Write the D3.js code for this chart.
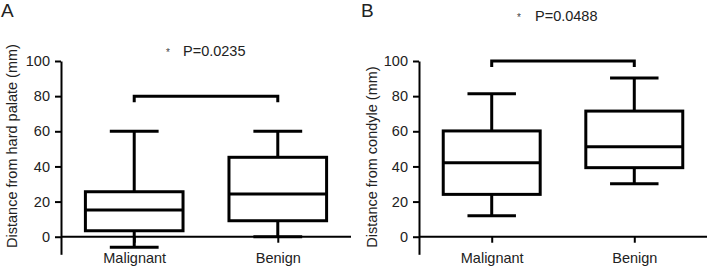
<!DOCTYPE html>
<html lang="en">
<head>
  <meta charset="UTF-8">
  <title>Box plots: distance from hard palate and condyle</title>
  <script src="https://d3js.org/d3.v7.min.js"></script>
  <style>
    body {
      margin: 0;
      background: #fff;
    }
    svg text {
      font-family: "Liberation Sans", Arial, sans-serif;
      fill: #222;
    }
  </style>
</head>
<body>
  <svg width="712" height="268"></svg>

  <script>
    // values: [min, q1, median, q3, max]
    const groups = ["Malignant", "Benign"];
    const palateBoxes = [[-6, 3.4, 15.2, 25.6, 60], [0, 9.1, 24.3, 45.2, 60]];
    const condyleBoxes = [[12, 24.1, 42.1, 60.2, 81.4], [30.2, 39.3, 51.2, 71.5, 90.3]];
    const yTicks = [0, 20, 40, 60, 80, 100];
    const panelLetters = ["A", "B"];
    const yTitles = ["Distance from hard palate (mm)", "Distance from condyle (mm)"];
    const pLabels = ["P=0.0235", "P=0.0488"];
    const bracketLevels = [80, 100];

    const svg = d3.select("svg");
    const fs = "14.5px";

    const panels = [
      {boxes: palateBoxes, left: 61, right: 351, titleY: 146, titleX: 17, letterX: 1},
      {boxes: condyleBoxes, left: 419, right: 707, titleY: 157, titleX: 377, letterX: 361}
    ];

    panels.forEach((p, i) => {
      const g = svg.append("g");

      const y = d3.scaleLinear().domain([-10, 100]).range([254.3, 61]);
      const x = d3.scalePoint().domain(groups).range([p.left, p.right]).padding(0.51);
      const boxW = x.step() * 0.68;
      const capW = boxW / 2;

      // y axis
      const yAxis = g.append("g")
        .attr("transform", `translate(${p.left},0)`)
        .call(d3.axisLeft(y).tickValues(yTicks).tickSize(6).tickPadding(5).tickSizeOuter(0));
      yAxis.select(".domain").attr("stroke", "#000").attr("stroke-width", 2);
      yAxis.selectAll(".tick line").attr("stroke", "#000").attr("stroke-width", 2);
      yAxis.selectAll("text").style("font-size", fs).attr("fill", "#222");

      // x axis sits at zero
      const xAxis = g.append("g")
        .attr("transform", `translate(0,${y(0)})`)
        .call(d3.axisBottom(x).tickSize(6).tickPadding(10).tickSizeOuter(0));
      xAxis.select(".domain").attr("stroke", "#000").attr("stroke-width", 2)
        .attr("d", `M${p.left},0H${p.right}`);
      xAxis.selectAll(".tick line").attr("stroke", "#000").attr("stroke-width", 2);
      xAxis.selectAll("text").style("font-size", fs).attr("fill", "#222");

      // boxes
      const box = g.selectAll(".box")
        .data(p.boxes)
        .enter()
        .append("g")
        .attr("class", "box")
        .attr("transform", (d, j) => `translate(${x(groups[j])},0)`)
        .attr("stroke", "#000")
        .attr("stroke-width", 3)
        .attr("fill", "none");

      box.append("line")
        .attr("y1", d => y(d[0])).attr("y2", d => y(d[1]));
      box.append("line")
        .attr("y1", d => y(d[3])).attr("y2", d => y(d[4]));
      box.append("line")
        .attr("x1", -capW / 2).attr("x2", capW / 2)
        .attr("y1", d => y(d[0])).attr("y2", d => y(d[0]));
      box.append("line")
        .attr("x1", -capW / 2).attr("x2", capW / 2)
        .attr("y1", d => y(d[4])).attr("y2", d => y(d[4]));
      box.append("rect")
        .attr("x", -boxW / 2).attr("width", boxW)
        .attr("y", d => y(d[3])).attr("height", d => y(d[1]) - y(d[3]));
      box.append("line")
        .attr("x1", -boxW / 2).attr("x2", boxW / 2)
        .attr("y1", d => y(d[2])).attr("y2", d => y(d[2]));

      // significance bracket
      const by = y(bracketLevels[i]);
      const x0 = x(groups[0]), x1 = x(groups[1]);
      g.append("path")
        .attr("d", `M${x0},${by + 6}V${by}H${x1}V${by + 6}`)
        .attr("fill", "none")
        .attr("stroke", "#000")
        .attr("stroke-width", 3);

      const mid = (x0 + x1) / 2;
      g.append("text")
        .attr("x", mid - 23 + (i ? -5 : 0))
        .attr("y", by - 40)
        .style("font-size", fs)
        .text(pLabels[i]);
      g.append("text")
        .attr("x", mid - 40 + (i ? -6 : 0))
        .attr("y", by - 40)
        .style("font-size", "10px")
        .style("fill", "#444")
        .text("*");

      // y title
      g.append("text")
        .attr("transform", `translate(${p.titleX},${p.titleY}) rotate(-90)`)
        .attr("text-anchor", "middle")
        .style("font-size", fs)
        .text(yTitles[i]);

      // panel letter
      g.append("text")
        .attr("x", p.letterX)
        .attr("y", 17)
        .style("font-size", "19px")
        .text(panelLetters[i]);
    });
  </script>
</body>
</html>
